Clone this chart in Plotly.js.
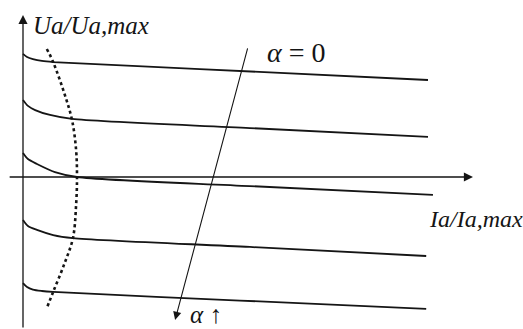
<!DOCTYPE html>
<html>
<head>
<meta charset="utf-8">
<script src="https://cdn.plot.ly/plotly-3.0.1.min.js"></script>
<style>html,body{margin:0;padding:0;background:#fff;}#chart{width:523px;height:329px;}</style>
</head>
<body>
<div id="chart"></div>
<script>
// Normalized coordinates: x = Ia/Ia,max, y = Ua/Ua,max
var curve1X = [0, 0.009, 0.022, 0.042, 0.067, 0.393, 0.900];
var curve1Y = [0.774, 0.755, 0.742, 0.730, 0.723, 0.679, 0.610];
var curve2X = [0, 0.011, 0.027, 0.060, 0.109, 0.504, 0.900];
var curve2Y = [0.484, 0.447, 0.421, 0.390, 0.365, 0.308, 0.252];
var curve3X = [0, 0.011, 0.031, 0.071, 0.120, 0.504, 0.911];
var curve3Y = [0.151, 0.113, 0.082, 0.031, 0.000, -0.057, -0.113];
var curve4X = [0, 0.011, 0.031, 0.067, 0.111, 0.504, 0.896];
var curve4Y = [-0.270, -0.308, -0.333, -0.365, -0.384, -0.440, -0.497];
var curve5X = [0, 0.009, 0.022, 0.042, 0.067, 0.482, 0.896];
var curve5Y = [-0.667, -0.692, -0.708, -0.717, -0.723, -0.777, -0.830];
var kneeX = [0.053, 0.067, 0.093, 0.109, 0.118, 0.120, 0.118, 0.111, 0.091, 0.067, 0.053];
var kneeY = [0.805, 0.723, 0.516, 0.358, 0.170, 0.000, -0.176, -0.384, -0.553, -0.723, -0.824];
var alphaArrowFrom = [0.500, 0.818];
var alphaArrowTo = [0.338, -0.899];
var xAxisFrom = [-0.033, 0];
var xAxisTo = [1.0, 0];
var yAxisFrom = [0, -0.956];
var yAxisTo = [0, 1.019];
var labelYText = 'Ua/Ua,max';
var labelXText = 'Ia/Ia,max';
var labelAlpha0 = '<i>α</i> = 0';
var labelAlphaUp = '<i>α</i> ↑';

var ink = '#151515';
var curveStyle = {color: ink, width: 1.8, shape: 'spline', smoothing: 0.8};
function curve(x, y) {
  return {x: x, y: y, mode: 'lines', type: 'scatter', line: curveStyle, hoverinfo: 'skip'};
}
var traces = [
  curve(curve1X, curve1Y), curve(curve2X, curve2Y), curve(curve3X, curve3Y),
  curve(curve4X, curve4Y), curve(curve5X, curve5Y),
  {x: kneeX, y: kneeY, mode: 'lines', type: 'scatter',
   line: {color: ink, width: 2.6, dash: 'dot', shape: 'spline'}, hoverinfo: 'skip'}
];

var serif = '"Liberation Serif", "Times New Roman", Times, serif';
function arrow(to, from, w, size) {
  return {x: to[0], y: to[1], ax: from[0], ay: from[1], xref: 'x', yref: 'y',
          axref: 'x', ayref: 'y', text: '', showarrow: true, arrowhead: 2,
          arrowsize: size, arrowwidth: w, arrowcolor: ink, standoff: 0, startstandoff: 0};
}
function label(text, x, y, size, xanchor) {
  return {x: x, y: y, xref: 'x', yref: 'y', text: text, showarrow: false,
          xanchor: xanchor || 'center', yanchor: 'middle',
          font: {family: serif, size: size, color: ink}};
}
var annotations = [
  arrow(xAxisTo, xAxisFrom, 1.3, 1.4),
  arrow(yAxisTo, yAxisFrom, 1.3, 1.4),
  arrow(alphaArrowTo, alphaArrowFrom, 1.1, 1.5),
  label('<i>' + labelYText + '</i>', 0.018, 0.955, 25, 'left'),
  label('<i>' + labelXText + '</i>', 0.898, -0.262, 24, 'left'),
  label(labelAlpha0, 0.608, 0.786, 28),
  label(labelAlphaUp, 0.406, -0.862, 25)
];

var layout = {
  width: 523, height: 329,
  margin: {l: 0, r: 0, t: 0, b: 0},
  paper_bgcolor: '#fff', plot_bgcolor: '#fff',
  showlegend: false,
  font: {family: serif},
  xaxis: {range: [-0.0511, 1.1111], visible: false, fixedrange: true},
  yaxis: {range: [-0.9560, 1.1132], visible: false, fixedrange: true},
  annotations: annotations
};
Plotly.newPlot('chart', traces, layout, {staticPlot: true, displayModeBar: false});
</script>
</body>
</html>
